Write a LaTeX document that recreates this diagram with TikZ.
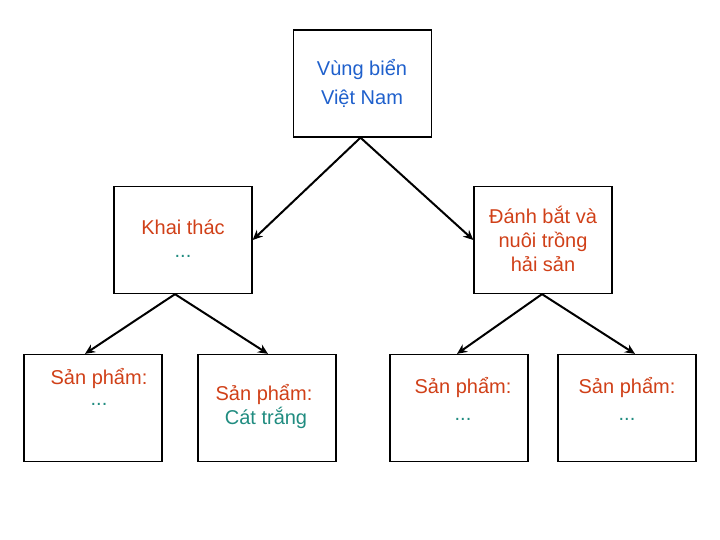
\documentclass[tikz,border=0pt]{standalone}
\usepackage{fontspec}
\setmainfont{Liberation Sans}
\usetikzlibrary{arrows.meta}

\definecolor{vnblue}{RGB}{31,96,204}
\definecolor{vnred}{RGB}{208,64,24}
\definecolor{vnteal}{RGB}{32,140,128}

\tikzset{
    box/.style={draw, line width=1.3pt, minimum width=138pt, minimum height=107pt, inner sep=0pt},
    txt/.style={align=center, inner sep=0pt, font=\fontsize{20}{24}\selectfont},
    dots/.style={txt, text=vnteal, anchor=base},
    link/.style={-{Stealth[length=10pt,width=9pt]}, line width=2pt}
}

\begin{document}
\begin{tikzpicture}[x=1pt, y=-1pt]
    \useasboundingbox (0,0) rectangle (720,540);

    \node[box] (sea) at (362.5,83.5) {};
    \node[box] (kt) at (183,240) {};
    \node[box] (db) at (543,240) {};
    \node[box] (sp1) at (93,408) {};
    \node[box] (sp2) at (267,408) {};
    \node[box] (sp3) at (459,408) {};
    \node[box] (sp4) at (627,408) {};

    \node[txt, text=vnblue, font=\fontsize{20}{29}\selectfont] (seatxt) at (362,83) {Vùng biển\\Việt Nam};
    \node[txt, text=vnred] (kttxt) at (183,227) {Khai thác};
    \node[dots] (ktdots) at (183,258) {...};
    \node[txt, text=vnred] (dbtxt) at (543,239) {Đánh bắt và\\nuôi trồng\\hải sản};
    \node[txt, text=vnred] (sp1txt) at (99,379) {Sản phẩm:};
    \node[dots] (sp1dots) at (99,405) {...};
    \node[txt, text=vnred] (sp2txt) at (264,395) {Sản phẩm:};
    \node[txt, text=vnteal] (sp2cat) at (266,418) {Cát trắng};
    \node[txt, text=vnred] (sp3txt) at (463,388) {Sản phẩm:};
    \node[dots] (sp3dots) at (463,420) {...};
    \node[txt, text=vnred] (sp4txt) at (627,388) {Sản phẩm:};
    \node[dots] (sp4dots) at (627,420) {...};

    \draw[link] ([xshift=-2pt]sea.south) -- (kt.east);
    \draw[link] ([xshift=-2pt]sea.south) -- (db.west);
    \draw[link] ([xshift=-8pt]kt.south) -- ([xshift=-8pt]sp1.north);
    \draw[link] ([xshift=-8pt]kt.south) -- ([xshift=1pt]sp2.north);
    \draw[link] ([xshift=-1pt]db.south) -- ([xshift=-2pt]sp3.north);
    \draw[link] ([xshift=-1pt]db.south) -- ([xshift=8pt]sp4.north);
\end{tikzpicture}
\end{document}
